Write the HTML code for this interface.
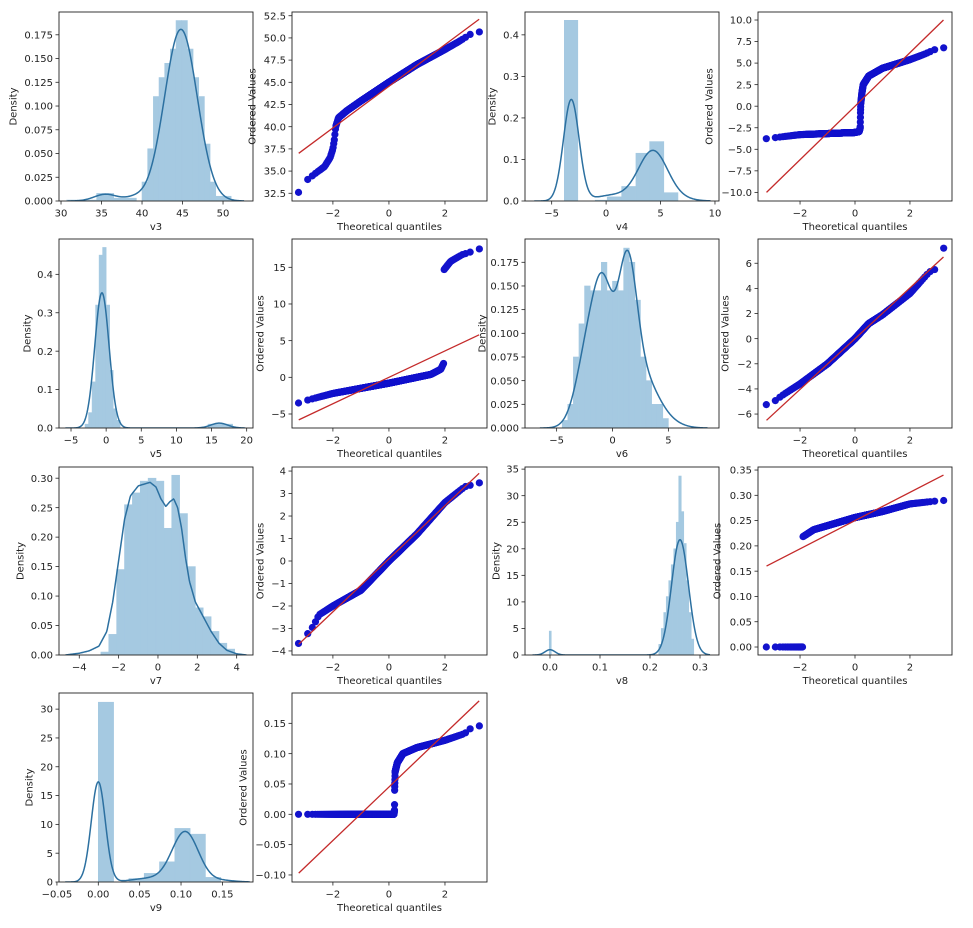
<!DOCTYPE html>
<html><head><meta charset="utf-8"><style>
html,body{margin:0;padding:0;background:#fff;}
svg{display:block;}
text{font-family:"DejaVu Sans","Liberation Sans",sans-serif;font-size:10px;fill:#222;}
</style></head><body>
<svg id="s" width="973" height="928" viewBox="0 0 973 928" xmlns="http://www.w3.org/2000/svg"></svg>
<script>
const NS='http://www.w3.org/2000/svg';
const svg=document.getElementById('s');
function el(t,a,p){const e=document.createElementNS(NS,t);for(const k in a)e.setAttribute(k,a[k]);(p||svg).appendChild(e);return e;}
function txt(s,a,p){const e=el('text',a,p);e.textContent=s;return e;}
function ninv(p){const a=[-39.69683028665376,220.9460984245205,-275.9285104469687,138.357751867269,-30.66479806614716,2.506628277459239],b=[-54.47609879822406,161.5858368580409,-155.6989798598866,66.80131188771972,-13.28068155288572],c=[-0.007784894002430293,-0.3223964580411365,-2.400758277161838,-2.549732539343734,4.374664141464968,2.938163982698783],d=[0.007784695709041462,0.3224671290700398,2.445134137142996,3.754408661907416];const pl=0.02425;let q,r;if(p<pl){q=Math.sqrt(-2*Math.log(p));return(((((c[0]*q+c[1])*q+c[2])*q+c[3])*q+c[4])*q+c[5])/((((d[0]*q+d[1])*q+d[2])*q+d[3])*q+1);}if(p>1-pl){q=Math.sqrt(-2*Math.log(1-p));return-(((((c[0]*q+c[1])*q+c[2])*q+c[3])*q+c[4])*q+c[5])/((((d[0]*q+d[1])*q+d[2])*q+d[3])*q+1);}q=p-0.5;r=q*q;return(((((a[0]*r+a[1])*r+a[2])*r+a[3])*r+a[4])*r+a[5])*q/(((((b[0]*r+b[1])*r+b[2])*r+b[3])*r+b[4])*r+1);}
function interp(t,x){if(x<=t[0][0])return t[0][1];for(let i=1;i<t.length;i++){if(x<=t[i][0]){const a=t[i-1],b=t[i];return a[1]+(b[1]-a[1])*(x-a[0])/(b[0]-a[0]);}}return t[t.length-1][1];}
function mix(comps,x){let s=0;for(const [m,sd,w] of comps)s+=w/(sd*2.5066283)*Math.exp(-0.5*((x-m)/sd)**2);return s;}
function fmt(v,d){let s=Math.abs(v).toFixed(d);return (v<-1e-9?'\u2212':'')+s;}
let cid=0;
function axes(c){
 const [x0,y0,x1,y1]=c.box,[xa,xb]=c.xr,[ya,yb]=c.yr;
 const X=v=>x0+(v-xa)/(xb-xa)*(x1-x0),Y=v=>y1-(v-ya)/(yb-ya)*(y1-y0);
 const id='c'+(cid++);
 const cp=el('clipPath',{id});el('rect',{x:x0,y:y0,width:x1-x0,height:y1-y0},cp);
 const g=el('g',{'clip-path':`url(#${id})`});
 if(c.bars){for(const [l,w,h] of c.bars){el('rect',{x:X(l),y:Y(h),width:X(l+w)-X(l),height:Y(0)-Y(h),fill:'#a5c9e1',stroke:'#a5c9e1','stroke-width':0.6},g);}}
 if(c.kde){let d='';const [a,b]=c.kde.range;const N=300;for(let i=0;i<=N;i++){const x=a+(b-a)*i/N;const y=c.kde.f(x);d+=(i?'L':'M')+X(x).toFixed(2)+' '+Y(y).toFixed(2);}el('path',{d,fill:'none',stroke:'#2c70a0','stroke-width':1.5},g);}
 if(c.qq){const n=800;for(let i=0;i<n;i++){const q=ninv((i+0.5)/n);const v=interp(c.qq.t,q);el('circle',{cx:X(q).toFixed(2),cy:Y(v).toFixed(2),r:3.6,fill:'#1212cc'},g);}
  const [la,lb]=c.qq.line;el('line',{x1:X(-3.22),y1:Y(la),x2:X(3.22),y2:Y(lb),stroke:'#c42a2a','stroke-width':1.3},g);}
 el('rect',{x:x0,y:y0,width:x1-x0,height:y1-y0,fill:'none',stroke:'#222','stroke-width':0.9});
 for(const v of c.xt){const px=X(v);el('line',{x1:px,y1:y1,x2:px,y2:y1+3.5,stroke:'#222','stroke-width':0.8});txt(fmt(v,c.xd),{x:px,y:y1+15.5,'text-anchor':'middle'});}
 for(const v of c.yt){const py=Y(v);el('line',{x1:x0,y1:py,x2:x0-3.5,y2:py,stroke:'#222','stroke-width':0.8});txt(fmt(v,c.yd),{x:x0-6,y:py+3.6,'text-anchor':'end'});}
 txt(c.xl,{x:(x0+x1)/2,y:y1+29,'text-anchor':'middle'});
 const cy=(y0+y1)/2;txt(c.yl,{x:c.ylx,y:cy,'text-anchor':'middle',transform:`rotate(-90 ${c.ylx} ${cy})`,dy:'0.35em'});
}
function rng(a,b,s){const r=[];for(let v=a;v<=b+1e-9;v+=s)r.push(Math.round(v*1e6)/1e6);return r;}
function binsArr(start,w,hs){return hs.map((h,i)=>[start+i*w,w,h]);}
const C1=59,C1b=253,C2=292,C2b=487,C3=525,C3b=719,C4=758,C4b=952;
const R=[[12,201],[239,428],[467,655],[693,882]];
const QX=[-3.46,3.5],QX4=[-3.53,3.53];
function cat(...a){return [].concat(...a);}
// Row 1
axes({box:[C1,R[0][0],C1b,R[0][1]],xr:[29.75,53.7],yr:[0,0.199],xt:[30,35,40,45,50],xd:0,yt:rng(0,0.175,0.025),yd:3,xl:'v3',yl:'Density',ylx:13,
 bars:cat([[30.7,3.7,0.001],[34.4,2.1,0.008],[36.5,2.8,0.003],[49.1,1.9,0.005]],binsArr(40,0.7,[0.02,0.055,0.11,0.13,0.145,0.16,0.19,0.19,0.16,0.13,0.11,0.06,0.02])),
 kde:{range:[30.8,52.6],f:x=>mix([[44.8,2.02,0.915],[35.5,1.4,0.025],[39,1.2,0.01]],x)}});
axes({box:[C2,R[0][0],C2b,R[0][1]],xr:QX,yr:[31.63,52.92],xt:[-2,0,2],xd:0,yt:rng(32.5,52.5,2.5),yd:1,xl:'Theoretical quantiles',yl:'Ordered Values',ylx:252,
 qq:{t:[[-3.3,32.6],[-3.2,32.6],[-3.0,33.8],[-2.6,34.8],[-2.3,35.5],[-2.1,36.5],[-2.0,37.5],[-1.95,38.5],[-1.9,40],[-1.8,41],[-1.5,41.8],[-1,42.9],[0,45],[1,47],[2,48.7],[2.5,49.6],[3,50.6],[3.3,50.7]],line:[37.0,52.1]}});
axes({box:[C3,R[0][0],C3b,R[0][1]],xr:[-7.45,10.37],yr:[0,0.455],xt:[-5,0,5,10],xd:0,yt:rng(0,0.4,0.1),yd:1,xl:'v4',yl:'Density',ylx:492,
 bars:[[-3.84,1.24,0.435],[-1.0,1.1,0.002],[0.1,1.33,0.01],[1.43,1.31,0.035],[2.74,1.26,0.115],[4.0,1.3,0.143],[5.3,1.3,0.02]],
 kde:{range:[-6.6,9.6],f:x=>mix([[-3.2,0.72,0.44],[4.3,1.35,0.41],[0.5,1.5,0.05],[7,1.2,0.01]],x)}});
axes({box:[C4,R[0][0],C4b,R[0][1]],xr:QX4,yr:[-11.0,10.93],xt:[-2,0,2],xd:0,yt:rng(-10,10,2.5),yd:1,xl:'Theoretical quantiles',yl:'Ordered Values',ylx:709,
 qq:{t:[[-3.3,-3.8],[-2,-3.3],[0,-3.05],[0.15,-2.95],[0.19,-2.5],[0.2,-0.8],[0.21,0.3],[0.25,1.5],[0.3,2.5],[0.5,3.5],[1,4.4],[2,5.4],[2.5,6.0],[3,6.7],[3.3,6.8]],line:[-10,10]}});
// Row 2
axes({box:[C1,R[1][0],C1b,R[1][1]],xr:[-6.71,20.9],yr:[0,0.492],xt:[-5,0,5,10,15,20],xd:0,yt:rng(0,0.4,0.1),yd:1,xl:'v5',yl:'Density',ylx:27,
 bars:cat(binsArr(-3,0.5,[0.01,0.04,0.12,0.32,0.45,0.47,0.32,0.15,0.05,0.02]),[[14.5,3.5,0.01]]),
 kde:{range:[-5.8,19.8],f:x=>mix([[-0.6,1.02,0.9],[16.1,1.2,0.038]],x)}});
axes({box:[C2,R[1][0],C2b,R[1][1]],xr:QX,yr:[-6.91,18.86],xt:[-2,0,2],xd:0,yt:[-5,0,5,10,15],yd:0,xl:'Theoretical quantiles',yl:'Ordered Values',ylx:260,
 qq:{t:[[-3.3,-3.6],[-3,-3.2],[-2,-2.2],[0,-0.8],[1.5,0.4],[1.85,1.1],[1.95,1.9],[1.951,14.6],[2.2,15.8],[2.6,16.7],[3,17.2],[3.3,17.6]],line:[-5.8,5.8]}});
axes({box:[C3,R[1][0],C3b,R[1][1]],xr:[-7.83,9.53],yr:[0,0.1996],xt:[-5,0,5],xd:0,yt:rng(0,0.175,0.025),yd:3,xl:'v6',yl:'Density',ylx:482,
 bars:binsArr(-4.5,0.5,[0.008,0.025,0.075,0.11,0.15,0.145,0.145,0.175,0.145,0.155,0.145,0.19,0.175,0.135,0.075,0.05,0.025,0.025,0.01]),
 kde:{range:[-6.5,8.5],f:x=>mix([[-2.0,1.1,0.26],[-0.7,0.85,0.22],[1.3,0.85,0.33],[2.8,1.3,0.16],[5,1.2,0.015]],x)}});
axes({box:[C4,R[1][0],C4b,R[1][1]],xr:QX4,yr:[-7.11,7.93],xt:[-2,0,2],xd:0,yt:rng(-6,6,2),yd:0,xl:'Theoretical quantiles',yl:'Ordered Values',ylx:725,
 qq:{t:[[-3.3,-5.3],[-3,-5.1],[-2.7,-4.6],[-2.5,-4.3],[-2,-3.6],[-1,-2.0],[0,0],[0.5,1.2],[1,1.9],[2,3.6],[2.7,5.3],[3,5.6],[3.1,5.6],[3.2,7.2]],line:[-6.5,6.5]}});
// Row 3
axes({box:[C1,R[2][0],C1b,R[2][1]],xr:[-5.03,4.83],yr:[0,0.319],xt:[-4,-2,0,2,4],xd:0,yt:rng(0,0.3,0.05),yd:2,xl:'v7',yl:'Density',ylx:20,
 bars:binsArr(-2.9,0.4,[0.005,0.035,0.145,0.255,0.275,0.295,0.3,0.295,0.215,0.305,0.24,0.15,0.08,0.065,0.04,0.02,0.01]),
 kde:{range:[-4.7,4.5],f:x=>interp([[-4.7,0],[-4,0.003],[-3.5,0.007],[-3,0.015],[-2.6,0.04],[-2.3,0.09],[-2,0.16],[-1.7,0.23],[-1.4,0.27],[-1,0.287],[-0.4,0.293],[-0.1,0.285],[0.15,0.265],[0.4,0.252],[0.6,0.26],[0.8,0.265],[1.0,0.25],[1.2,0.215],[1.4,0.165],[1.6,0.125],[1.9,0.09],[2.3,0.065],[2.7,0.04],[3.1,0.02],[3.5,0.008],[4,0.002],[4.5,0]],x)}});
axes({box:[C2,R[2][0],C2b,R[2][1]],xr:QX,yr:[-4.18,4.18],xt:[-2,0,2],xd:0,yt:rng(-4,4,1),yd:0,xl:'Theoretical quantiles',yl:'Ordered Values',ylx:260,
 qq:{t:[[-3.3,-3.75],[-3,-3.4],[-2.7,-2.9],[-2.5,-2.4],[-2,-2.0],[-1,-1.3],[0,0],[1,1.2],[2,2.6],[2.7,3.3],[3,3.4],[3.3,3.5]],line:[-3.7,3.9]}});
axes({box:[C3,R[2][0],C3b,R[2][1]],xr:[-0.05,0.338],yr:[0,35.4],xt:[0,0.1,0.2,0.3],xd:1,yt:rng(0,35,5),yd:0,xl:'v8',yl:'Density',ylx:496,
 bars:cat([[-0.0015,0.004,4.5]],binsArr(0.2175,0.005,[2,5,8,11,14,17,20,25,33.7,27,21,14,8,3])),
 kde:{range:[-0.035,0.32],f:x=>mix([[0.26,0.017,0.925],[0,0.01,0.025]],x)}});
axes({box:[C4,R[2][0],C4b,R[2][1]],xr:QX4,yr:[-0.0158,0.356],xt:[-2,0,2],xd:0,yt:rng(0,0.35,0.05),yd:2,xl:'Theoretical quantiles',yl:'Ordered Values',ylx:717,
 qq:{t:[[-3.3,0],[-1.905,0],[-1.9,0.218],[-1.5,0.232],[0,0.256],[1,0.268],[2,0.283],[3,0.289],[3.3,0.29]],line:[0.16,0.34]}});
// Row 4
axes({box:[C1,R[3][0],C1b,R[3][1]],xr:[-0.0475,0.187],yr:[0,32.8],xt:[-0.05,0,0.05,0.1,0.15],xd:2,yt:rng(0,30,5),yd:0,xl:'v9',yl:'Density',ylx:29,
 bars:[[0,0.0185,31.2],[0.037,0.0185,0.6],[0.0555,0.0185,1.5],[0.074,0.0185,3.5],[0.0925,0.0185,9.3],[0.111,0.0185,8.3],[0.1295,0.0185,0.8]],
 kde:{range:[-0.04,0.183],f:x=>mix([[0,0.0085,0.37],[0.105,0.016,0.35],[0.06,0.02,0.03],[0.15,0.015,0.01]],x)}});
axes({box:[C2,R[3][0],C2b,R[3][1]],xr:QX,yr:[-0.1116,0.2],xt:[-2,0,2],xd:0,yt:rng(-0.1,0.15,0.05),yd:2,xl:'Theoretical quantiles',yl:'Ordered Values',ylx:243,
 qq:{t:[[-3.3,0],[0.18,0],[0.2,0.008],[0.201,0.035],[0.22,0.07],[0.3,0.085],[0.5,0.1],[1,0.11],[2,0.122],[2.7,0.133],[3,0.145],[3.3,0.146]],line:[-0.097,0.187]}});
</script>
</body></html>
